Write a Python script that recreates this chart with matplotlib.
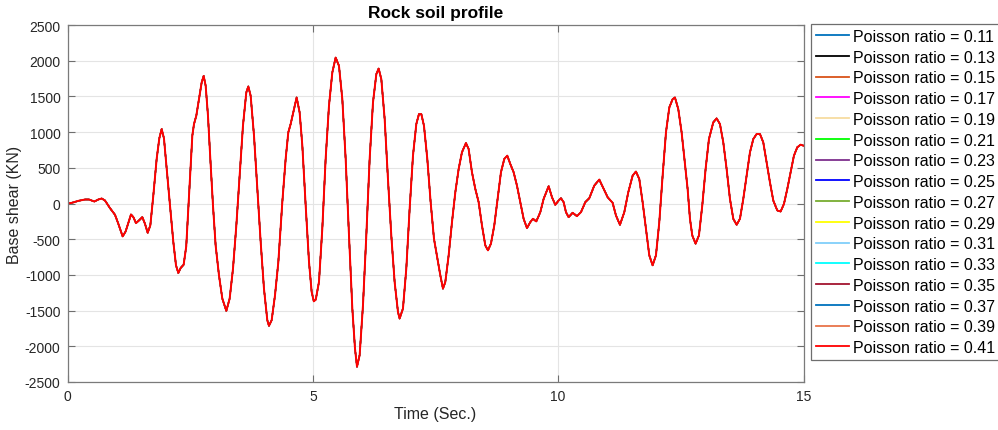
import matplotlib
matplotlib.use("Agg")
import matplotlib.pyplot as plt

# Base shear time history (same record for every Poisson ratio)
time_s = [
    0.00, 0.085, 0.221, 0.357, 0.438, 0.547, 0.628, 0.696, 0.764, 0.866,
    0.968, 1.036, 1.124, 1.185, 1.294, 1.342, 1.396, 1.457, 1.525, 1.579,
    1.634, 1.688, 1.749, 1.817, 1.871, 1.919, 1.966, 2.021, 2.089, 2.157,
    2.211, 2.259, 2.306, 2.367, 2.420, 2.460, 2.500, 2.544, 2.578, 2.625,
    2.680, 2.734, 2.775, 2.816, 2.863, 2.911, 2.965, 3.019, 3.087, 3.155,
    3.237, 3.305, 3.373, 3.441, 3.509, 3.576, 3.644, 3.685, 3.733, 3.801,
    3.869, 3.937, 4.004, 4.072, 4.106, 4.161, 4.229, 4.297, 4.378, 4.446,
    4.500, 4.548, 4.616, 4.670, 4.731, 4.786, 4.854, 4.922, 4.976, 5.020,
    5.060, 5.125, 5.193, 5.261, 5.329, 5.397, 5.465, 5.533, 5.601, 5.669,
    5.737, 5.805, 5.859, 5.900, 5.954, 6.022, 6.090, 6.158, 6.226, 6.294,
    6.341, 6.396, 6.464, 6.531, 6.599, 6.667, 6.735, 6.769, 6.837, 6.905,
    6.973, 7.041, 7.109, 7.163, 7.211, 7.265, 7.333, 7.401, 7.469, 7.550,
    7.598, 7.652, 7.700, 7.768, 7.836, 7.904, 7.972, 8.039, 8.121, 8.175,
    8.243, 8.311, 8.379, 8.447, 8.515, 8.569, 8.630, 8.698, 8.766, 8.834,
    8.902, 8.963, 9.024, 9.092, 9.160, 9.228, 9.296, 9.364, 9.432, 9.486,
    9.554, 9.636, 9.704, 9.806, 9.874, 9.942, 10.009, 10.057, 10.111, 10.159,
    10.213, 10.295, 10.383, 10.465, 10.553, 10.634, 10.736, 10.838, 10.927, 11.008,
    11.110, 11.178, 11.259, 11.348, 11.429, 11.518, 11.585, 11.653, 11.721, 11.789,
    11.857, 11.925, 11.993, 12.061, 12.129, 12.197, 12.265, 12.333, 12.380, 12.448,
    12.516, 12.584, 12.638, 12.686, 12.733, 12.801, 12.869, 12.937, 13.005, 13.073,
    13.161, 13.229, 13.297, 13.365, 13.433, 13.501, 13.569, 13.637, 13.705, 13.773,
    13.841, 13.909, 13.977, 14.045, 14.113, 14.180, 14.248, 14.316, 14.384, 14.466,
    14.534, 14.602, 14.670, 14.737, 14.805, 14.873, 14.941, 15.000,
]
base_shear_kn = [
    0, 9, 37, 56, 56, 28, 56, 70, 42, -65,
    -158, -284, -461, -391, -154, -191, -275, -237, -191, -284,
    -410, -307, 112, 624, 912, 1043, 912, 484, -28, -540,
    -866, -973, -903, -857, -600, -100, 420, 950, 1113, 1229,
    1462, 1694, 1787, 1648, 1229, 624, -28, -587, -1005, -1331,
    -1504, -1331, -912, -307, 391, 1089, 1555, 1639, 1508, 950,
    205, -540, -1192, -1634, -1713, -1634, -1285, -819, 19, 624,
    996, 1113, 1322, 1485, 1275, 810, -28, -819, -1238, -1370,
    -1345, -1099, -354, 624, 1369, 1834, 2044, 1927, 1462, 624,
    -447, -1471, -2030, -2286, -2123, -1424, -447, 624, 1415, 1811,
    1890, 1741, 1182, 344, -447, -1099, -1518, -1611, -1471, -912,
    -74, 670, 1113, 1252, 1252, 1089, 624, 19, -494, -819,
    -1005, -1192, -1099, -726, -261, 158, 484, 717, 847, 763,
    438, 205, 19, -307, -587, -656, -563, -307, 65, 438,
    624, 670, 554, 438, 251, 19, -214, -344, -261, -214,
    -251, -121, 65, 242, 88, -19, 42, 74, 19, -121,
    -191, -130, -177, -121, 19, 74, 251, 335, 205, 88,
    9, -168, -298, -121, 158, 391, 447, 344, 19, -354,
    -726, -866, -726, -261, 391, 996, 1345, 1462, 1485, 1322,
    996, 550, 205, -214, -447, -563, -447, -28, 484, 903,
    1136, 1192, 1113, 857, 484, 65, -214, -298, -214, 65,
    391, 717, 903, 973, 973, 857, 577, 298, 42, -98,
    -112, -5, 205, 438, 670, 787, 824, 810,
]

poisson_ratios = [0.11, 0.13, 0.15, 0.17, 0.19, 0.21, 0.23, 0.25,
                  0.27, 0.29, 0.31, 0.33, 0.35, 0.37, 0.39, 0.41]

x_ticks = [0, 5, 10, 15]
y_ticks = [-2500, -2000, -1500, -1000, -500, 0, 500, 1000, 1500, 2000, 2500]

line_colors = ['#0072BD', '#000000', '#D95319', '#FF00FF', '#F7DCA0', '#00FF00',
               '#7E2F8E', '#0000FF', '#77AC30', '#FFFF00', '#80CFFA', '#00FFFF',
               '#A2142F', '#0072BD', '#E8744A', '#FF0000']

plt.rcParams['font.family'] = ['Liberation Sans', 'DejaVu Sans']
plt.rcParams['axes.unicode_minus'] = False

W, H = 998, 431
fig = plt.figure(figsize=(W / 100, H / 100), dpi=100)
ax_left, ax_right, ax_top, ax_bottom = 67.5, 803.5, 26, 383
ax = fig.add_axes([ax_left / W, 1 - ax_bottom / H,
                   (ax_right - ax_left) / W, (ax_bottom - ax_top) / H])

n_series = len(poisson_ratios)
for i, (nu, col) in enumerate(zip(poisson_ratios, line_colors)):
    # the last series is drawn on top and slightly wider so it hides the rest
    lw = 1.4 if i == n_series - 1 else 0.9
    ax.plot(time_s, base_shear_kn, color=col, lw=lw,
            solid_joinstyle='round', label=f"Poisson ratio = {nu:.2f}")

ax.set_xlim(0, 15)
ax.set_ylim(-2500, 2500)
ax.set_xticks(x_ticks)
ax.set_yticks(y_ticks)
ax.grid(True, color='#e4e4e4', lw=0.8)
ax.set_axisbelow(True)
ax.tick_params(direction='in', top=True, right=True, length=5, width=0.8,
               color='#6e6e6e', labelsize=10, labelcolor='#262626', pad=5)
for sp in ax.spines.values():
    sp.set_color('#7a7a7a')
    sp.set_linewidth(0.9)

ax.set_title('Rock soil profile', fontsize=12.5, fontweight='bold',
             color='#000000', pad=6)
ax.set_xlabel('Time (Sec.)', fontsize=11.5, color='#262626')
ax.set_ylabel('Base shear (KN)', fontsize=11.5, color='#262626')
ax.xaxis.set_label_coords(0.5, (ax_bottom - 407) / (ax_bottom - ax_top))
ax.yaxis.set_label_coords((22 - ax_left) / (ax_right - ax_left), 0.5)

leg = ax.legend(loc='upper left', bbox_to_anchor=(811 / W, 1 - 25 / H),
                bbox_transform=fig.transFigure, fontsize=11.5, frameon=True,
                fancybox=False, edgecolor='#6e6e6e', framealpha=1,
                borderpad=0.3, labelspacing=0.36, handlelength=2.1,
                handletextpad=0.25, borderaxespad=0)
leg.get_frame().set_linewidth(0.9)
for handle in leg.get_lines():
    handle.set_linewidth(1.3)

fig.savefig('out.png', dpi=100)
